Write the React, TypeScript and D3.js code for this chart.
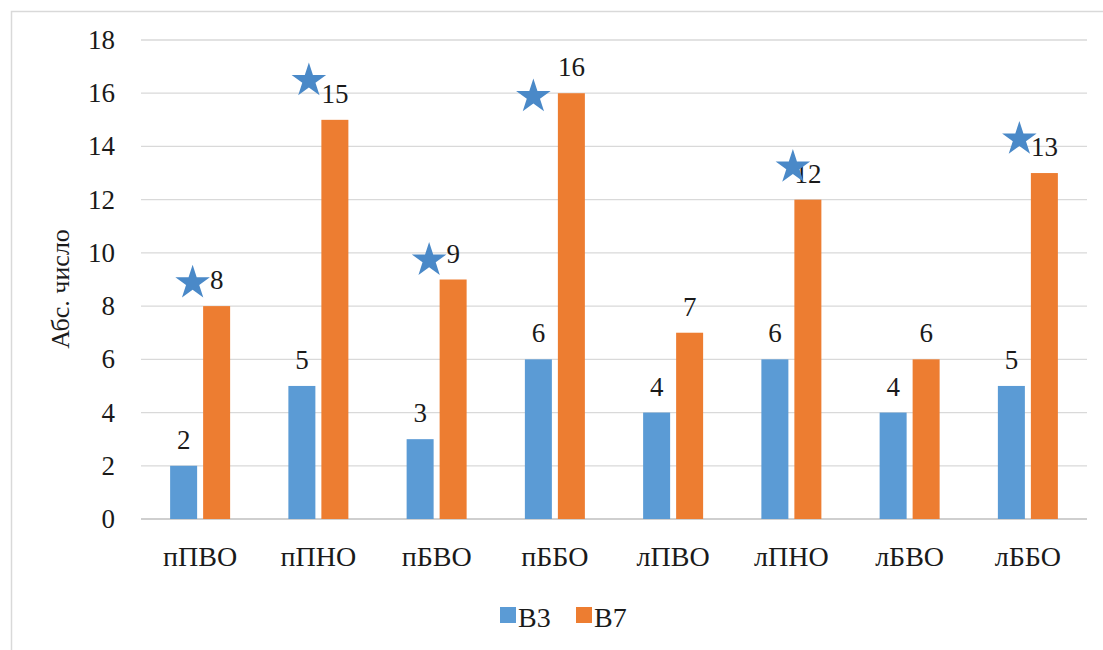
import React, { useEffect, useRef } from "react";
import * as d3 from "d3";

const categories = ["пПВО", "пПНО", "пБВО", "пББО", "лПВО", "лПНО", "лБВО", "лББО"];
const seriesNames = ["В3", "В7"];
const valuesB3 = [2, 5, 3, 6, 4, 6, 4, 5];
const valuesB7 = [8, 15, 9, 16, 7, 12, 6, 13];
const yTicks = [0, 2, 4, 6, 8, 10, 12, 14, 16, 18];
const starCategories = ["пПВО", "пПНО", "пБВО", "пББО", "лПНО", "лББО"];
const starLevels = [8.95, 16.55, 9.8, 15.95, 13.3, 14.35];
const starShift = [-24, -26, -24, -38, -15, -25];

const W = 1103;
const H = 650;
const FONT = "'Liberation Serif', Tinos, 'Nimbus Roman', 'Nimbus Roman No9 L', FreeSerif, 'Noto Serif', 'DejaVu Serif', 'Times New Roman', Times, serif";
const BLUE = "#5b9bd5";
const ORANGE = "#ed7d31";
const STAR = "#4a89c8";

export default function App() {
  const ref = useRef<SVGSVGElement | null>(null);

  useEffect(() => {
    const svg = d3.select(ref.current);
    svg.selectAll("*").remove();

    const left = 141, right = 1087, top = 40, bottom = 519;
    const x = d3.scaleBand<string>().domain(categories).range([left, right]);
    const y = d3.scaleLinear().domain([0, 18]).range([bottom, top]);
    const barW = 27;
    const gap = 6;

    svg.append("rect").attr("x", 11.5).attr("y", 11.5).attr("width", W + 20).attr("height", H + 20)
      .attr("fill", "#fff").attr("stroke", "#d9d9d9").attr("stroke-width", 1.5);

    const g = svg.append("g");
    g.selectAll("line.grid").data(yTicks).enter().append("line")
      .attr("x1", left).attr("x2", right)
      .attr("y1", d => y(d)).attr("y2", d => y(d))
      .attr("stroke", d => (d === 0 ? "#bfbfbf" : "#d9d9d9")).attr("stroke-width", 1.3);

    const txt = (sel: any) => sel.style("font-family", FONT).attr("fill", "#1a1a1a");

    g.selectAll("text.ytick").data(yTicks).enter().append("text")
      .attr("x", 115).attr("y", d => y(d))
      .attr("text-anchor", "end").attr("dominant-baseline", "central")
      .attr("font-size", 27)
      .call(txt)
      .text(d => String(d));

    const cx = (c: string) => (x(c) as number) + x.bandwidth() / 2;
    const bx1 = (c: string) => cx(c) - gap / 2 - barW;
    const bx2 = (c: string) => cx(c) + gap / 2;

    const series = [valuesB3, valuesB7];
    const colors = [BLUE, ORANGE];
    series.forEach((vals, si) => {
      g.selectAll(`rect.s${si}`).data(categories).enter().append("rect")
        .attr("x", c => (si === 0 ? bx1(c) : bx2(c)))
        .attr("y", (c, i) => y(vals[i]))
        .attr("width", barW)
        .attr("height", (c, i) => bottom - y(vals[i]))
        .attr("fill", colors[si]);
      g.selectAll(`text.l${si}`).data(categories).enter().append("text")
        .attr("x", c => (si === 0 ? bx1(c) : bx2(c)) + barW / 2)
        .attr("y", (c, i) => y(vals[i]) - 17)
        .attr("text-anchor", "middle")
        .attr("font-size", 27)
        .call(txt)
        .text((c, i) => String(vals[i]));
    });

    const star = d3.symbol().type(d3.symbolStar).size(370);
    g.selectAll("path.star").data(starCategories).enter().append("path")
      .attr("d", star() as string)
      .attr("transform", (c, i) => `translate(${bx2(c) + barW / 2 + starShift[i]},${y(starLevels[i]) + 2})`)
      .attr("fill", STAR);

    g.selectAll("text.cat").data(categories).enter().append("text")
      .attr("x", c => cx(c)).attr("y", 566)
      .attr("text-anchor", "middle")
      .attr("font-size", 28)
      .call(txt)
      .text(c => c);

    g.append("text")
      .attr("transform", `translate(69,289) rotate(-90)`)
      .attr("text-anchor", "middle")
      .attr("font-size", 26)
      .call(txt)
      .text("Абс. число");

    const legX = [500, 576];
    seriesNames.forEach((name, i) => {
      g.append("rect").attr("x", legX[i]).attr("y", 607).attr("width", 16).attr("height", 16).attr("fill", colors[i]);
      g.append("text").attr("x", legX[i] + 18).attr("y", 627)
        .attr("font-size", 28)
        .call(txt)
        .text(name);
    });
  }, []);

  return (
    <svg ref={ref} width={W} height={H}
      style={{ position: "absolute", left: 0, top: 0, background: "#fff" }} />
  );
}
